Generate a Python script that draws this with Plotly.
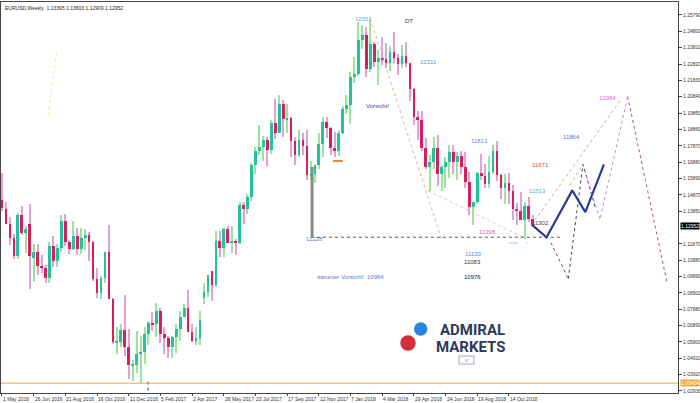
import plotly.graph_objects as go

# ---------------- data ----------------
opens = [1.1452,1.1400,1.1310,1.1224,1.1115,1.1365,1.1252,1.1310,1.1100,1.1140,
         1.1051,1.1040,1.0978,1.1175,1.1085,1.1162,1.1325,1.1197,1.1155,1.1233,
         1.1155,1.1225,1.1240,1.1200,1.0973,1.0890,1.0983,1.1140,1.0855,1.0590,
         1.0590,1.0665,1.0560,1.0450,1.0452,1.0517,1.0530,1.0640,1.0705,1.0698,
         1.0780,1.0640,1.0615,1.0560,1.0620,1.0670,1.0740,1.0800,1.0650,1.0595,
         1.0615,1.0860,1.0895,1.1020,1.0935,1.1205,1.1160,1.1280,1.1195,1.1200,
         1.1195,1.1425,1.1400,1.1470,1.1665,1.1755,1.1775,1.1820,1.1760,1.1925,
         1.1860,1.2035,1.1945,1.1950,1.1815,1.1730,1.1820,1.1785,1.1605,1.1610,
         1.1665,1.1795,1.1930,1.1895,1.1770,1.1750,1.1860,1.2005,1.2030,1.2200,
         1.2220,1.2425,1.2460,1.2250,1.2405,1.2295,1.2315,1.2310,1.2285,1.2355,
         1.2320,1.2280,1.2330,1.2290,1.2130,1.1960,1.1940,1.1770,1.1655,1.1685,
         1.1770,1.1610,1.1655,1.1685,1.1745,1.1685,1.1720,1.1655,1.1565,1.1410,
         1.1440,1.1620,1.1600,1.1550,1.1625,1.1750,1.1605,1.1525,1.1560,1.1510,
         1.1400,1.1390,1.1335,1.1415,1.13395]
highs = [1.1616,1.1445,1.1349,1.1250,1.1375,1.1416,1.1298,1.1427,1.1188,1.1186,
         1.1120,1.1060,1.1198,1.1234,1.1185,1.1366,1.1367,1.1213,1.1327,1.1285,
         1.1283,1.1278,1.1259,1.1205,1.1040,1.0990,1.1140,1.1300,1.0860,1.0685,
         1.0700,1.0875,1.0670,1.0480,1.0655,1.0630,1.0685,1.0720,1.0775,1.0830,
         1.0795,1.0680,1.0630,1.0630,1.0700,1.0780,1.0820,1.0905,1.0700,1.0680,
         1.0780,1.0950,1.1000,1.1025,1.1265,1.1268,1.1285,1.1295,1.1295,1.1215,
         1.1445,1.1445,1.1490,1.1680,1.1775,1.1910,1.1845,1.1840,1.1940,1.2070,
         1.2090,1.2060,1.2035,1.1960,1.1835,1.1880,1.1860,1.1880,1.1690,1.1665,
         1.1860,1.1960,1.1960,1.1900,1.1865,1.1880,1.2025,1.2090,1.2230,1.2325,
         1.2537,1.2520,1.2505,1.2555,1.2415,1.2365,1.2445,1.2410,1.2390,1.2475,
         1.2340,1.2395,1.2415,1.2290,1.2135,1.1995,1.1995,1.1830,1.1725,1.1840,
         1.1850,1.1670,1.1715,1.1790,1.1790,1.1745,1.1750,1.1745,1.1625,1.1445,
         1.1625,1.1735,1.1675,1.1720,1.1790,1.1815,1.1610,1.1610,1.1620,1.1545,
         1.1435,1.1500,1.1440,1.1470,1.13603]
lows = [1.1387,1.1306,1.1179,1.1098,1.1093,1.1240,1.1131,1.0912,1.0956,1.1000,
        1.1010,1.0952,1.0950,1.1045,1.1046,1.1140,1.1175,1.1124,1.1150,1.1121,
        1.1123,1.1152,1.1085,1.0964,1.0857,1.0850,1.0950,1.0850,1.0580,1.0518,
        1.0560,1.0505,1.0365,1.0352,1.0400,1.0340,1.0455,1.0575,1.0660,1.0620,
        1.0585,1.0520,1.0495,1.0495,1.0525,1.0600,1.0740,1.0650,1.0590,1.0570,
        1.0570,1.0820,1.0865,1.0840,1.0925,1.1110,1.1110,1.1195,1.1130,1.1120,
        1.1185,1.1310,1.1370,1.1450,1.1610,1.1730,1.1690,1.1660,1.1735,1.1825,
        1.1860,1.1840,1.1860,1.1715,1.1670,1.1715,1.1730,1.1575,1.1575,1.1555,
        1.1640,1.1715,1.1830,1.1730,1.1715,1.1720,1.1855,1.1980,1.1915,1.2165,
        1.2210,1.2375,1.2205,1.2235,1.2260,1.2155,1.2275,1.2255,1.2240,1.2290,
        1.2215,1.2255,1.2265,1.2055,1.1910,1.1820,1.1750,1.1645,1.1510,1.1645,
        1.1540,1.1510,1.1525,1.1590,1.1615,1.1575,1.1615,1.1530,1.1365,1.1300,
        1.1430,1.1575,1.1530,1.1530,1.1610,1.1570,1.1460,1.1430,1.1430,1.1335,
        1.1300,1.1335,1.1215,1.1320,1.12909]
closes = [1.1403,1.1310,1.1224,1.1115,1.1366,1.1252,1.1278,1.1115,1.1138,1.1051,
          1.1043,1.0978,1.1175,1.1085,1.1162,1.1325,1.1197,1.1155,1.1233,1.1155,
          1.1225,1.1240,1.1200,1.0973,1.0890,1.0983,1.1140,1.0855,1.0590,1.0590,
          1.0665,1.0560,1.0450,1.0452,1.0517,1.0530,1.0640,1.0705,1.0698,1.0780,
          1.0640,1.0615,1.0560,1.0620,1.0670,1.0740,1.0800,1.0650,1.0595,1.0615,
          1.0725,1.0895,1.0998,1.0935,1.1205,1.1160,1.1280,1.1195,1.1200,1.1195,
          1.1425,1.1400,1.1470,1.1665,1.1755,1.1775,1.1820,1.1760,1.1925,1.1860,
          1.2035,1.1945,1.1950,1.1815,1.1730,1.1820,1.1785,1.1605,1.1610,1.1665,
          1.1795,1.1930,1.1895,1.1770,1.1750,1.1860,1.2005,1.2030,1.2200,1.2220,
          1.2425,1.2460,1.2250,1.2405,1.2295,1.2315,1.2310,1.2285,1.2355,1.2320,
          1.2280,1.2330,1.2290,1.2130,1.1960,1.1940,1.1770,1.1655,1.1685,1.1770,
          1.1610,1.1655,1.1685,1.1745,1.1685,1.1720,1.1655,1.1565,1.1410,1.1440,
          1.1620,1.1600,1.1550,1.1625,1.1750,1.1605,1.1525,1.1560,1.1510,1.1400,
          1.1390,1.1335,1.1415,1.1340,1.12952]

# weekly bar index (0 = week of 1 May 2016)
weeks = list(range(len(opens)))

date_tick_weeks = [0, 8, 16, 24, 32, 40, 48, 56, 64, 72, 80, 88, 96, 104, 112, 120, 128]
date_tick_labels = ["1 May 2016", "26 Jun 2016", "21 Aug 2016", "16 Oct 2016", "11 Dec 2016",
                    "5 Feb 2017", "2 Apr 2017", "28 May 2017", "23 Jul 2017", "17 Sep 2017",
                    "12 Nov 2017", "7 Jan 2018", "4 Mar 2018", "29 Apr 2018", "24 Jun 2018",
                    "19 Aug 2018", "14 Oct 2018"]

price_tick_vals = [1.02930, 1.03924, 1.04918, 1.05912, 1.06906, 1.07900, 1.08894, 1.09888,
                   1.10882, 1.11876, 1.13864, 1.14858, 1.15852, 1.16846, 1.17840,
                   1.18834, 1.19828, 1.20822, 1.21816, 1.22810, 1.23804, 1.24798, 1.25792]
price_tick_text = ["1.02930", "1.03920", "1.04910", "1.05900", "1.06890", "1.07880", "1.08900",
                   "1.09890", "1.10880", "1.11870", "1.13850", "1.14870", "1.15890", "1.16880",
                   "1.17870", "1.18860", "1.19850", "1.20840", "1.21830", "1.22820", "1.23810",
                   "1.24800", "1.25790"]

current_price = 1.12952
low_2017_level = 1.03404
support_level = 1.1228

# drawn lines: (week, price) points
main_path_w = [134, 137.5, 144, 147.3, 152]
main_path_p = [1.1300, 1.1228, 1.1513, 1.1381, 1.1671]
crash_w = [138.6, 143]
crash_p = [1.1195, 1.0976]
black_w = [143, 146.7, 149.8]
black_p = [1.0976, 1.1671, 1.1410]
khaki_short_w = [143.4, 146.7]
khaki_short_p = [1.1545, 1.1671]
khaki_long_w = [134.5, 156.0]
khaki_long_p = [1.1330, 1.2055]
maroon_w = [158.0, 167.9]
maroon_p = [1.2084, 1.0955]
pink_w = [146.7, 151.0, 158.0]
pink_p = [1.1671, 1.1335, 1.2084]
peak_line_w = [93, 111]
peak_line_p = [1.2555, 1.1215]
lows_line_w = [107.6, 131.6]
lows_line_p = [1.1510, 1.1228]
support_w = [78, 141]
range_bar_w = [78.3, 78.3]
range_bar_p = [1.1228, 1.1655]
orange_mark_w = [83.6, 86.1]
orange_mark_p = [1.1692, 1.1692]
cyan_mark_w = [128, 132.8]
cyan_mark_p = [1.1193, 1.1193]
yellow_w = [11.6, 13.9]
yellow_p = [1.1971, 1.2366]
vmark_w = [36.9, 36.9]
vmark_p = [1.0350, 1.0285]

labels = [  # text, week, price, color
    ("12567", 91.2, 1.2557, "#5bbfc4"),
    ("DT", 102.8, 1.2543, "#333333"),
    ("12311", 107.6, 1.2293, "#5a8fd0"),
    ("Vorsicht!", 94.9, 1.2026, "#3c4a96"),
    ("11813", 120.7, 1.1813, "#7080d0"),
    ("11864", 143.9, 1.1835, "#5a6cc4"),
    ("12084", 153.0, 1.2075, "#e070d0"),
    ("11671", 135.9, 1.1667, "#d04848"),
    ("11513", 135.1, 1.1509, "#5aa8e0"),
    ("11302", 135.9, 1.1314, "#444444"),
    ("11298", 122.7, 1.1260, "#d060d0"),
    ("11228", 79.0, 1.1215, "#6080c0"),
    ("11130", 118.9, 1.1126, "#4a90d9"),
    ("11083", 118.9, 1.1077, "#333333"),
    ("10976", 118.9, 1.0986, "#222222"),
    ("darunter Vorsicht!", 85.6, 1.0986, "#6080c0"),
    ("10964", 94.4, 1.0986, "#6080c0"),
]

# ---------------- styling ----------------
UP_BODY, UP_WICK = "#22c29e", "#9be49b"
DN_BODY, DN_WICK = "#d81e5b", "#e2a0dc"
W, H = 700, 403
ML, MR, MT, MB = 1, 22, 2, 10
X0, X1 = -0.25, 170.7
Y0, Y1 = 1.02808, 1.26582
FONT = "Liberation Sans, Arial, sans-serif"

up = [c >= o for o, c in zip(opens, closes)]
wick_base = [min(l, o, c) for l, o, c in zip(lows, opens, closes)]
wick_len = [max(h, o, c) - b for h, o, c, b in zip(highs, opens, closes, wick_base)]
body_base = [min(o, c) for o, c in zip(opens, closes)]
body_len = [max(abs(c - o), 0.0004) for o, c in zip(opens, closes)]

fig = go.Figure()
fig.add_trace(go.Bar(x=weeks, y=wick_len, base=wick_base, width=0.28,
                     marker=dict(color=[UP_WICK if u else DN_WICK for u in up], line=dict(width=0)),
                     hoverinfo="skip"))
fig.add_trace(go.Bar(x=weeks, y=body_len, base=body_base, width=0.68,
                     marker=dict(color=[UP_BODY if u else DN_BODY for u in up], line=dict(width=0)),
                     hoverinfo="skip"))


def seg(xs, ys, color, width=1, dash="dot"):
    fig.add_trace(go.Scatter(x=xs, y=ys, mode="lines", hoverinfo="skip",
                             line=dict(color=color, width=width, dash=dash)))


seg(peak_line_w, peak_line_p, "#dcb48c")
seg(lows_line_w, lows_line_p, "#e6c4a8")
seg(support_w, [support_level, support_level], "#555555")
seg(range_bar_w, range_bar_p, "#8a8a8a", width=3, dash="solid")
seg(orange_mark_w, orange_mark_p, "#e0873a", width=2, dash="solid")
seg(cyan_mark_w, cyan_mark_p, "#80cdee", dash="dash")
seg(yellow_w, yellow_p, "#ecec9a")
seg(vmark_w, vmark_p, "#333333")
seg(crash_w, crash_p, "#b03a48")
seg(black_w, black_p, "#444444")
seg(khaki_short_w, khaki_short_p, "#c8b66a")
seg(khaki_long_w, khaki_long_p, "#c8ad80")
seg(maroon_w, maroon_p, "#b8505a")
seg(pink_w, pink_p, "#d080e0")
seg(main_path_w, main_path_p, "#2e3a94", width=2.2, dash="solid")
seg([X0, X1], [low_2017_level, low_2017_level], "#f0a840", width=1, dash="solid")

annotations = []
for t, wk, p, col in labels:
    annotations.append(dict(x=wk, y=p, xref="x", yref="y", text=t, showarrow=False,
                            font=dict(family=FONT, size=6, color=col), xanchor="center", yanchor="middle"))
for wk, t in zip(date_tick_weeks, date_tick_labels):
    annotations.append(dict(x=wk, y=0, xref="x", yref="paper", text=t, showarrow=False,
                            font=dict(family=FONT, size=5, color="#333333"),
                            xanchor="left", yanchor="top", xshift=-1, yshift=-1))
annotations.append(dict(x=0, y=1, xref="paper", yref="paper", xshift=2, yshift=-1,
                        text="EURUSD,Weekly  1.13395 1.13603 1.12909 1.12952", showarrow=False,
                        font=dict(family=FONT, size=5, color="#222222"), xanchor="left", yanchor="top"))
annotations.append(dict(x=1, y=current_price, xref="paper", yref="y", xshift=2,
                        text="1.12952", showarrow=False, bgcolor="#000000", borderpad=0,
                        font=dict(family=FONT, size=5, color="#ffffff"), xanchor="left", yanchor="middle"))
annotations.append(dict(x=1, y=low_2017_level, xref="paper", yref="y", xshift=2,
                        text="1.03404", showarrow=False, bgcolor="#f0a840", borderpad=0,
                        font=dict(family=FONT, size=5, color="#ffffff"), xanchor="left", yanchor="middle"))

# logo, placed in pixel terms
PW, PH = W - ML - MR, H - MT - MB


def px(x):
    return (x - ML) / PW


def py(y):
    return (H - MB - y) / PH


shapes = [
    dict(type="circle", xref="paper", yref="paper", x0=px(414), x1=px(427.4), y0=py(335.7), y1=py(322.3),
         fillcolor="#2385e0", line=dict(width=0)),
    dict(type="circle", xref="paper", yref="paper", x0=px(400.3), x1=px(415.7), y0=py(350.7), y1=py(335.3),
         fillcolor="#d0303a", line=dict(width=0)),
    dict(type="rect", xref="paper", yref="paper", x0=px(459), x1=px(474), y0=py(364), y1=py(356),
         fillcolor="#ffffff", line=dict(width=1, color="#9aa6c8")),
]
annotations.append(dict(x=px(472), y=py(338.5), xref="paper", yref="paper", text="<b>ADMIRAL</b>",
                        showarrow=False, font=dict(family="Roboto, sans-serif", size=15, color="#2c3a5a"),
                        xanchor="center", yanchor="bottom", borderpad=0, yshift=-1))
annotations.append(dict(x=px(471), y=py(338.5), xref="paper", yref="paper", text="<b>MARKETS</b>",
                        showarrow=False, font=dict(family="Roboto, sans-serif", size=15, color="#2c3a5a"),
                        xanchor="center", yanchor="top", borderpad=0, yshift=2))
annotations.append(dict(x=px(466.5), y=py(360), xref="paper", yref="paper", text="IC",
                        showarrow=False, font=dict(family=FONT, size=4, color="#5a6a9a"),
                        xanchor="center", yanchor="middle"))

fig.update_layout(
    width=W, height=H, margin=dict(l=ML, r=MR, t=MT, b=MB),
    paper_bgcolor="#ffffff", plot_bgcolor="#ffffff",
    barmode="overlay", bargap=0, showlegend=False,
    annotations=annotations, shapes=shapes,
    xaxis=dict(range=[X0, X1], showgrid=False, zeroline=False, showline=True, mirror=True,
               linecolor="#444444", linewidth=1, tickvals=date_tick_weeks, showticklabels=False,
               ticks="outside", ticklen=2, tickcolor="#444444"),
    yaxis=dict(range=[Y0, Y1], side="right", showgrid=False, zeroline=False, showline=True, mirror=True,
               linecolor="#444444", linewidth=1, tickvals=price_tick_vals, ticktext=price_tick_text,
               ticks="outside", ticklen=3, tickcolor="#444444", automargin=False,
               tickfont=dict(family=FONT, size=5, color="#333333")),
)

fig.write_html("out.html", config={"displayModeBar": False},
               post_script="document.body.style.margin='0';document.body.style.overflow='hidden';")
